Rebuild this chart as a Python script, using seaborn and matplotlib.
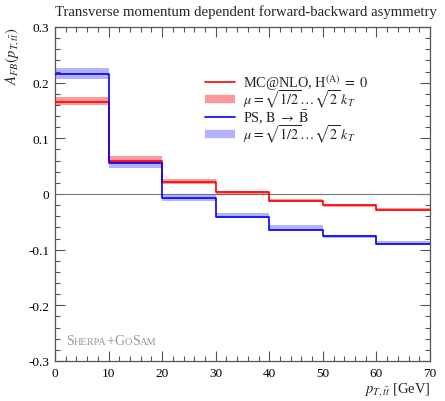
import numpy as np
import pandas as pd
import matplotlib
matplotlib.use("Agg")
import matplotlib.pyplot as plt
import seaborn as sns
from matplotlib.lines import Line2D
from matplotlib.legend import Legend
from matplotlib.ticker import FixedLocator, FixedFormatter, MultipleLocator

# ---------------- data ----------------
bin_edges = [0, 10, 20, 30, 40, 50, 60, 70]
mcnlo = [0.166, 0.060, 0.022, 0.003, -0.0125, -0.0205, -0.028]
mcnlo_lo = [0.159, 0.055, 0.018, -0.002, -0.015, -0.023, -0.030]
mcnlo_hi = [0.174, 0.068, 0.027, 0.005, -0.009, -0.018, -0.026]
ps = [0.216, 0.0555, -0.008, -0.041, -0.065, -0.076, -0.089]
ps_lo = [0.207, 0.046, -0.012, -0.044, -0.066, -0.079, -0.091]
ps_hi = [0.227, 0.060, -0.002, -0.035, -0.056, -0.073, -0.085]
y_ticks = [-0.3, -0.2, -0.1, 0.0, 0.1, 0.2, 0.3]
y_tick_labels = ["-0.3", "-0.2", "-0.1", "0", "0.1", "0.2", "0.3"]
x_ticks = [0, 10, 20, 30, 40, 50, 60, 70]
x_tick_labels = ["0", "10", "20", "30", "40", "50", "60", "70"]
legend_labels = [r"MC@NLO, H$^{(\mathrm{A})}\;=\;0$",
                 r"$\mu=\sqrt{1/2}\ldots\sqrt{2}\;k_T$",
                 r"PS, $\mathrm{B}\;\rightarrow\;\bar{\mathrm{B}}$",
                 r"$\mu=\sqrt{1/2}\ldots\sqrt{2}\;k_T$"]

sns.set_style("ticks")
plt.rcParams["font.family"] = ["Liberation Serif", "DejaVu Serif"]
plt.rcParams["mathtext.fontset"] = "stix"
plt.rcParams["axes.unicode_minus"] = False

W, H = 445, 402
fig = plt.figure(figsize=(W / 100, H / 100), dpi=100)
ax = fig.add_axes([55 / W, 1 - 362 / H, (430 - 55) / W, (362 - 28) / H])

RED = "#ff0000"
BLUE = "#0000ff"

def ext(v):
    return list(v) + [v[-1]]

ax.axhline(0, color="#777777", lw=0.8, zorder=1)

ax.fill_between(bin_edges, ext(mcnlo_lo), ext(mcnlo_hi), step="post",
                color=RED, alpha=0.4, lw=0, zorder=2)
ax.fill_between(bin_edges, ext(ps_lo), ext(ps_hi), step="post",
                color=BLUE, alpha=0.3, lw=0, zorder=2)

df_r = pd.DataFrame({"x": bin_edges, "y": ext(mcnlo)})
df_b = pd.DataFrame({"x": bin_edges, "y": ext(ps)})
sns.lineplot(data=df_r, x="x", y="y", ax=ax, color=RED, lw=1.2,
             drawstyle="steps-post", estimator=None, sort=False, zorder=3)
sns.lineplot(data=df_b, x="x", y="y", ax=ax, color=BLUE, lw=1.2,
             drawstyle="steps-post", estimator=None, sort=False, zorder=4)

ax.set_xlim(0, 70)
ax.set_ylim(-0.3, 0.3)
ax.xaxis.set_major_locator(FixedLocator(x_ticks))
ax.xaxis.set_major_formatter(FixedFormatter(x_tick_labels))
ax.yaxis.set_major_locator(FixedLocator(y_ticks))
ax.yaxis.set_major_formatter(FixedFormatter(y_tick_labels))
ax.xaxis.set_minor_locator(MultipleLocator(2))
ax.yaxis.set_minor_locator(MultipleLocator(0.02))
ax.tick_params(which="both", direction="in", top=True, right=True,
               color="#555555", labelsize=9.5, labelcolor="black", pad=4)
ax.tick_params(which="major", length=7.5, width=0.8)
ax.tick_params(which="minor", length=3.8, width=0.8)
for s in ax.spines.values():
    s.set_color("#555555")
    s.set_linewidth(0.9)

ax.set_xlabel("")
ax.set_ylabel("")
fig.text(430 / W, 1 - 390 / H, r"$p_{T,t\bar{t}}$ [GeV]", ha="right",
         va="center", fontsize=10.5)
fig.text(12 / W, 1 - 28 / H, r"$A_{FB}(p_{T,t\bar{t}})$", rotation=90,
         ha="center", va="top", fontsize=10.5)
fig.text(55 / W, 1 - 12 / H,
         "Transverse momentum dependent forward-backward asymmetry",
         ha="left", va="center", fontsize=10.65)

handles = [Line2D([], [], color=RED, lw=1.2),
           Line2D([], [], color=RED, alpha=0.4, lw=6, solid_capstyle="butt"),
           Line2D([], [], color=BLUE, lw=1.2),
           Line2D([], [], color=BLUE, alpha=0.3, lw=6, solid_capstyle="butt")]
row_y = [83, 100, 118, 135]
for h, lab, yy in zip(handles, legend_labels, row_y):
    leg = Legend(ax, [h], [lab], loc="center left",
                 bbox_to_anchor=(205 / W, 1 - yy / H),
                 bbox_transform=fig.transFigure, frameon=False,
                 fontsize=10.3, handlelength=2.1, handletextpad=0.55,
                 borderpad=0.0, borderaxespad=0.0)
    ax.add_artist(leg)

# small caps "Sherpa+GoSam"
pieces = [("S", 10), ("HERPA", 7.5), ("+", 10), ("G", 10), ("O", 7.5),
          ("S", 10), ("AM", 7.5)]
fig.canvas.draw()
r = fig.canvas.get_renderer()
xpix = 66.0
for txt, fs in pieces:
    t = fig.text(xpix / W, 1 - 345 / H, txt, fontsize=fs, color="#999999",
                 ha="left", va="baseline")
    bb = t.get_window_extent(renderer=r)
    xpix += bb.width

fig.savefig("out.png", dpi=100)
